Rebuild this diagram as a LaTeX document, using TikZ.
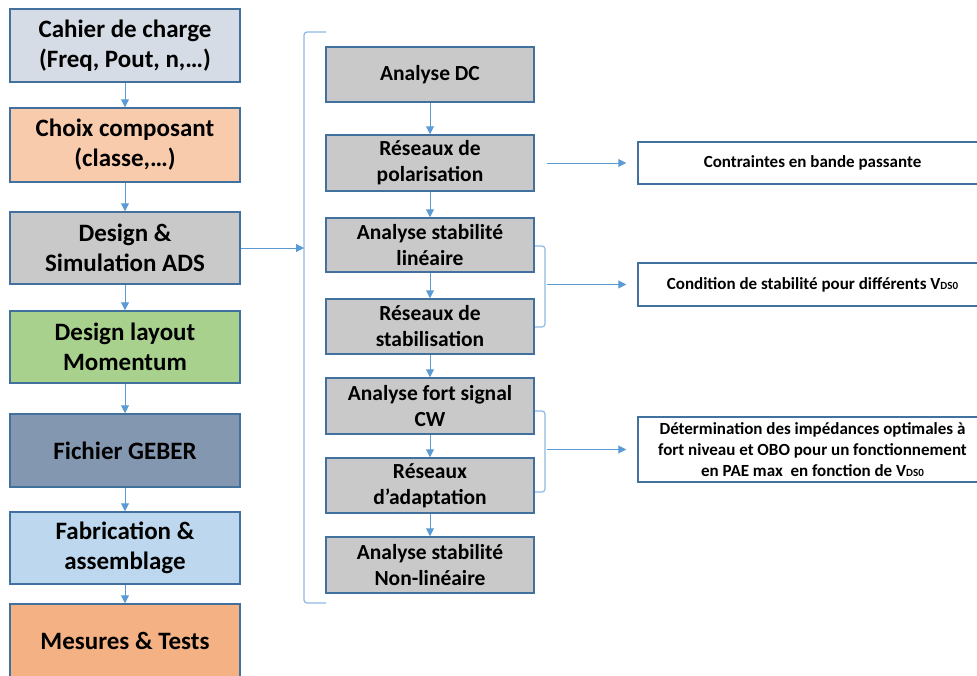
\documentclass[tikz,border=0pt]{standalone}
\usepackage{fontspec}
\setmainfont{Carlito}
\usetikzlibrary{arrows.meta}
\definecolor{bord}{HTML}{41719C}
\definecolor{arrc}{HTML}{5B9BD5}
\definecolor{brc}{HTML}{8FB9E3}
\definecolor{cA}{HTML}{D6DCE5}
\definecolor{cB}{HTML}{F8CBAD}
\definecolor{cC}{HTML}{C9C9C9}
\definecolor{cD}{HTML}{A9D18E}
\definecolor{cE}{HTML}{8497B0}
\definecolor{cF}{HTML}{BDD7EE}
\definecolor{cG}{HTML}{F4B183}
\newcommand{\vdszero}{V{\fontsize{11}{12}\selectfont DS0}}
\begin{document}
\begin{tikzpicture}[x=1pt,y=-1pt,
  lbox/.style={draw=bord, line width=1.5pt, minimum width=230pt, inner sep=0pt, align=center,
    font=\fontsize{25}{30}\selectfont\bfseries},
  mbox/.style={draw=bord, line width=1.5pt, fill=cC, minimum width=208pt, inner sep=0pt, align=center,
    font=\fontsize{21.5}{26}\selectfont\bfseries},
  rbox/.style={draw=bord, line width=1.5pt, fill=white, minimum width=349pt, inner sep=0pt, align=center,
    font=\fontsize{17}{21}\selectfont\bfseries},
  arr/.style={draw=arrc, line width=1pt, -{Triangle[length=8pt,width=8pt]}},
  brk/.style={draw=brc, line width=1.2pt, rounded corners=3pt}]
\useasboundingbox (0,0) rectangle (977,675);
\clip (0,0) rectangle (977,675);

% left column
\node[lbox, fill=cA, minimum height=73pt] (cahier) at (125,45.5) {Cahier de charge\\(Freq, Pout, n,…)};
\node[lbox, fill=cB, minimum height=74pt] (choix) at (125,145) {Choix composant\\(classe,…)};
\node[lbox, fill=cC, minimum height=72pt] (design) at (125,248) {Design \&\\Simulation ADS};
\node[lbox, fill=cD, minimum height=72pt] (layout) at (125,347) {Design layout\\Momentum};
\node[lbox, fill=cE, minimum height=73pt] (geber) at (125,450.5) {Fichier GEBER};
\node[lbox, fill=cF, minimum height=72pt] (fab) at (125,548) {Fabrication \&\\assemblage};
\node[lbox, fill=cG, minimum height=74pt] (mes) at (125,641) {Mesures \& Tests};

\draw[arr] (cahier) -- (choix);
\draw[arr] (choix) -- (design);
\draw[arr] (design) -- (layout);
\draw[arr] (layout) -- (geber);
\draw[arr] (geber) -- (fab);
\draw[arr] (fab) -- (mes);

% big bracket
\draw[brk] (326,32) -- (304,32) -- (304,603) -- (326,603);
\coordinate (bk) at (304,248);
\draw[arr] (design.east) -- (bk);

% middle column
\node[mbox, minimum height=55pt] (dc) at (430,74.5) {Analyse DC};
\node[mbox, minimum height=56pt] (pol) at (430,163) {Réseaux de\\polarisation};
\node[mbox, minimum height=54pt] (stab) at (430,245) {Analyse stabilité\\linéaire};
\node[mbox, minimum height=55pt] (stabil) at (430,326.5) {Réseaux de\\stabilisation};
\node[mbox, minimum height=56pt] (cw) at (430,406) {Analyse fort signal\\CW};
\node[mbox, minimum height=55pt] (adapt) at (430,485.5) {Réseaux\\d’adaptation};
\node[mbox, minimum height=56pt] (nl) at (430,565) {Analyse stabilité\\Non-linéaire};

\draw[arr] (dc) -- (pol);
\draw[arr] (pol) -- (stab);
\draw[arr] (stab) -- (stabil);
\draw[arr] (stabil) -- (cw);
\draw[arr] (cw) -- (adapt);
\draw[arr] (adapt) -- (nl);

% right column
\node[rbox, minimum height=42pt] (contr) at (812.5,163) {Contraintes en bande passante};
\node[rbox, minimum height=43pt] (cond) at (812.5,284.5) {Condition de stabilité pour différents \vdszero};
\node[rbox, minimum height=65pt] (det) at (812.5,449.5) {Détermination des impédances optimales à\\fort niveau et OBO pour un fonctionnement\\en PAE max\ \ en fonction de \vdszero};

% small brackets
\draw[brk] (535,246) -- (545,246) -- (545,327) -- (535,327);
\draw[brk] (535,411) -- (545,411) -- (545,492) -- (535,492);
\coordinate (b1) at (545,284.5);
\coordinate (b2) at (545,449.5);

\draw[arr, shorten <=12pt, shorten >=11pt] (pol.east) -- (contr.west);
\draw[arr, shorten <=2pt, shorten >=11pt] (b1) -- (cond.west);
\draw[arr, shorten <=2pt, shorten >=11pt] (b2) -- (det.west);
\end{tikzpicture}
\end{document}
